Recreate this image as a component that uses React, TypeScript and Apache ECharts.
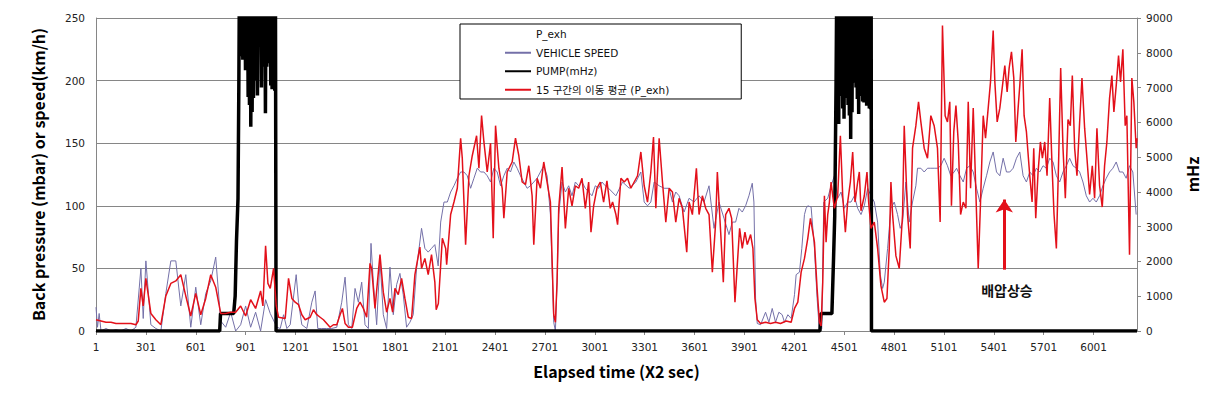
import React, { useEffect, useRef } from "react";
import * as echarts from "echarts";

// ---- data (elapsed index, value) ----
const xTickStep = 300;
const xLastIndex = 6262;
const leftTicks = { min: 0, max: 250, step: 50 };
const rightTicks = { min: 0, max: 9000, step: 1000 };

const vehicleSpeed: [number, number][] = [
  [1,19],[10,3],[20,14],[31,0],[61,2],[91,0],[121,1],[151,0],[181,2],[211,0],[241,3],[271,50],[285,10],[301,56],[331,5],[361,2],[391,0],[421,30],[451,56],[481,56],[511,20],[541,45],[571,3],[601,35],[631,5],[661,30],[691,40],[721,59],[751,8],[781,3],[811,15],[841,0],[871,5],[901,20],[931,3],[961,15],[991,0],[1021,25],
  [1049,14],[1089,3],[1109,2],[1129,13],[1149,2],[1169,5],[1205,45],[1219,23],[1239,5],[1269,2],[1299,23],[1319,32],[1335,2],[1359,2],[1389,2],[1419,2],[1449,3],[1479,23],[1499,43],[1519,5],[1539,2],[1559,34],[1579,23],[1599,39],[1619,5],[1639,2],[1655,70],[1669,39],[1689,5],[1709,57],[1729,13],[1749,2],[1769,51],[1789,13],[1809,37],[1829,46],[1849,29],[1869,3],[1889,7],[1909,13],[1929,50],[1959,82],[1979,66],[1999,63],[2019,66],[2039,69],[2059,52],
  [2074,87],[2094,103],[2114,103],[2134,111],[2154,116],[2174,122],[2194,127],[2214,127],[2234,124],[2254,114],[2274,122],[2294,130],[2314,127],[2334,127],[2354,124],[2374,119],[2394,130],[2414,127],[2434,116],[2454,124],[2474,130],[2494,127],[2514,135],[2534,130],[2554,124],[2574,119],[2594,114],[2614,116],[2634,119],[2654,122],[2674,127],[2694,132],[2714,124],[2734,93],[2754,7],[2764,0],[2774,39],[2784,93],[2804,119],[2824,111],[2844,116],[2864,108],[2884,119],[2904,116],[2924,119],[2944,114],[2964,111],[2984,108],[3004,116],[3024,114],[3044,119],[3064,116],[3084,114],
  [3128,108],[3168,119],[3208,114],[3248,119],[3278,127],[3298,103],[3318,100],[3338,103],[3358,119],[3388,116],[3418,114],[3448,114],[3468,103],[3488,111],[3508,108],[3538,95],[3568,106],[3598,103],[3628,108],[3658,103],[3688,116],[3718,82],[3748,103],[3778,90],[3808,77],[3828,87],[3848,87],[3868,98],[3888,95],[3908,100],[3928,108],[3948,118],[3958,103],[3968,26],[3978,6],[3998,5],[4028,15],[4048,7],[4068,18],[4088,7],[4108,15],[4128,13],
  [4142,7],[4162,13],[4182,10],[4202,29],[4212,45],[4232,47],[4246,66],[4262,93],[4272,98],[4282,100],[4302,99],[4322,66],[4338,26],[4352,0],[4366,2],[4378,103],[4402,106],[4422,116],[4442,124],[4462,106],[4482,111],[4502,98],[4522,103],[4542,103],[4562,108],[4582,98],[4602,93],[4622,100],[4642,114],[4662,108],[4682,103],[4702,87],[4718,45],[4732,34],[4742,39],[4762,66],[4782,98],[4802,103],[4822,93],[4838,82],[4852,87],[4872,119],[4892,87],[4912,103],[4932,116],[4942,130],[4962,130],[4982,127],[5002,130],[5022,130],[5042,130],[5062,130],[5082,132],[5102,138],[5122,132],[5142,124],[5162,127],
  [5177,130],[5197,124],[5217,119],[5237,130],[5257,132],[5277,127],[5297,114],[5317,103],[5337,114],[5357,124],[5377,135],[5397,143],[5417,127],[5437,124],[5457,138],[5477,127],[5497,127],[5517,130],[5537,138],[5557,143],[5577,124],[5597,119],[5617,127],[5637,124],[5657,130],[5677,127],[5697,132],[5717,130],[5737,138],[5757,135],[5777,124],[5797,119],[5817,127],[5837,132],[5857,138],[5877,132],[5897,130],[5917,127],[5937,119],[5957,108],[5977,103],[5997,106],[6017,103],[6037,108],[6057,116],[6077,122],[6097,127],[6117,130],[6137,135],[6157,127],[6177,127],[6197,122],[6217,132],[6237,127],[6257,93]
];

const movingAvgPexh: [number, number][] = [
  [1,9],[31,8],[61,7],[91,7],[121,6],[151,6],[181,6],[211,6],[241,5],[255,8],[271,34],[285,20],[301,42],[331,14],[361,9],[391,5],[421,28],[451,38],[481,40],[511,45],[541,28],[571,12],[601,30],[631,13],[661,26],[691,45],[721,35],[751,14],[781,14],[811,15],[841,15],[871,20],[901,12],[931,25],[961,18],[991,32],[1005,20],[1021,68],[1035,38],[1049,34],[1069,50],[1085,20],[1099,11],[1139,10],[1159,42],[1179,26],[1199,23],[1219,21],[1239,13],[1259,9],[1289,11],[1309,17],[1329,13],[1349,11],[1369,9],[1389,6],[1409,3],[1429,5],[1449,5],[1469,13],[1483,18],[1499,6],[1519,3],[1543,3],[1569,18],[1589,23],[1609,18],[1629,11],[1649,54],[1659,50],[1679,18],[1709,61],[1729,31],[1749,15],[1769,26],[1785,15],[1799,34],[1819,29],[1839,42],[1859,26],[1879,11],[1899,10],[1919,45],[1949,67],[1959,50],[1979,58],[1999,45],[2019,61],[2039,39],[2047,17],[2060,22],
  [2084,74],[2104,66],[2110,53],[2134,93],[2154,103],[2174,114],[2194,154],[2204,138],[2224,69],[2244,124],[2264,140],[2290,156],[2304,130],[2320,172],[2334,151],[2354,127],[2374,150],[2390,74],[2404,164],[2424,130],[2444,114],[2454,90],[2474,127],[2504,135],[2524,154],[2544,140],[2564,119],[2584,117],[2604,132],[2624,108],[2634,69],[2654,122],[2674,114],[2694,135],[2714,119],[2734,103],[2754,13],[2764,7],[2774,39],[2784,98],[2804,131],[2824,82],[2844,114],[2864,100],[2884,116],[2904,114],[2924,122],[2944,98],[2964,119],[2978,79],[2994,100],[3014,114],[3034,119],[3054,103],[3074,120],[3094,98],
  [3108,103],[3128,93],[3138,85],[3158,122],[3178,119],[3198,122],[3218,114],[3238,119],[3258,124],[3278,143],[3298,116],[3318,103],[3338,127],[3354,155],[3368,98],[3388,154],[3408,119],[3428,87],[3448,114],[3468,111],[3488,87],[3508,106],[3528,98],[3554,63],[3568,103],[3588,93],[3612,130],[3628,93],[3648,108],[3668,98],[3688,93],[3708,47],[3728,87],[3738,127],[3758,79],[3774,39],[3788,93],[3808,98],[3824,90],[3844,23],[3858,53],[3872,82],[3888,66],[3904,79],[3918,69],[3938,77],[3952,66],[3964,26],[3978,9],[3998,6],[4028,7],[4058,6],[4088,7],[4118,6],
  [4152,8],[4182,7],[4202,18],[4222,23],[4242,47],[4262,58],[4282,74],[4298,90],[4312,79],[4322,71],[4338,34],[4352,7],[4362,4],[4372,39],[4382,108],[4392,71],[4402,93],[4412,103],[4422,119],[4432,108],[4442,98],[4462,108],[4478,156],[4492,108],[4508,79],[4522,103],[4538,119],[4552,143],[4566,103],[4582,119],[4592,127],[4602,96],[4622,108],[4638,127],[4648,103],[4662,82],[4682,87],[4702,66],[4722,36],[4742,23],[4758,26],[4772,66],[4782,119],[4792,93],[4812,60],[4832,50],[4852,93],[4862,164],[4882,93],[4898,66],[4912,146],[4932,164],[4948,183],[4962,167],[4982,146],[5002,138],[5022,172],[5042,164],[5062,146],[5078,87],[5092,244],[5108,172],[5122,167],[5136,183],[5146,100],[5160,159],
  [5173,180],[5187,151],[5201,93],[5217,103],[5233,98],[5247,183],[5261,114],[5277,178],[5291,119],[5307,50],[5321,103],[5337,172],[5351,154],[5367,178],[5381,199],[5397,240],[5407,199],[5421,167],[5437,178],[5453,196],[5467,212],[5481,191],[5493,210],[5507,223],[5521,202],[5533,151],[5547,178],[5557,196],[5571,225],[5583,172],[5597,159],[5617,124],[5631,103],[5641,146],[5653,90],[5667,127],[5681,151],[5693,138],[5707,151],[5721,124],[5737,186],[5751,132],[5763,93],[5777,66],[5791,138],[5803,210],[5817,146],[5831,106],[5847,169],[5861,164],[5873,204],[5887,146],[5901,124],[5917,167],[5931,202],[5947,162],[5961,138],[5977,109],[5993,132],[6007,106],[6021,162],[6037,116],[6053,99],[6067,132],[6081,151],[6097,186],[6111,204],[6123,175],[6137,196],[6151,220],[6163,199],[6177,225],[6191,164],[6201,172],[6217,61],[6231,202],[6243,183],[6257,146],[6262,154]
];

const pumpMHz: [number, number][] = [
  [1,0],[745,0],[750,500],[829,500],[838,1000],[846,2600],[855,3800],[860,7000],[864,10500],[868,7900],[872,10500],[876,8000],[880,10500],[884,7800],[888,10500],[892,7960],[896,10500],[900,7500],[904,10500],[908,8140],[912,10500],[916,6730],[920,10500],[924,6500],[928,10500],[932,5870],[936,10500],[940,6300],[944,10500],[948,6700],[952,10500],[956,7400],[960,10500],[964,7200],[968,10500],[972,6770],[976,10500],[980,8210],[984,10500],[988,8280],[992,10500],[996,7000],[1000,10500],[1004,7600],[1008,10500],[1012,8960],[1016,10500],[1020,6260],[1024,10500],[1028,7600],[1032,10500],[1036,8280],[1040,10500],[1044,7700],[1048,10500],[1052,7060],[1056,10500],[1060,6950],[1064,10500],[1068,8570],[1072,10500],[1076,6910],[1080,10500],[1083,10500],[1084,0],
  [4355,0],[4361,500],[4427,500],[4437,2100],[4444,3300],[4452,7100],[4457,10500],[4460,8900],[4464,10500],[4468,5950],[4472,10500],[4476,7000],[4480,10500],[4484,6760],[4488,10500],[4492,6400],[4496,10500],[4500,6100],[4504,10500],[4508,6700],[4512,10500],[4516,7140],[4520,10500],[4524,6500],[4528,10500],[4532,6200],[4536,10500],[4540,5520],[4544,10500],[4548,6290],[4552,10500],[4556,7140],[4560,10500],[4564,7380],[4568,10500],[4572,7000],[4576,10500],[4580,6670],[4584,10500],[4588,6240],[4592,10500],[4596,6950],[4600,10500],[4604,6760],[4608,10500],[4612,6600],[4616,10500],[4620,6570],[4624,10500],[4628,6570],[4632,10500],[4636,6480],[4640,10500],[4644,6480],[4648,10500],[4652,6400],[4656,10500],[4660,6380],[4663,10500],[4665,0],[6262,0]
];

const annotationArrow = { t: 5464, from: 49, to: 105 };
const annotationText = "배압상승";

const seriesNames = {
  pexh: "P_exh",
  speed: "VEHICLE SPEED",
  pump: "PUMP(mHz)",
  avg: "15 구간의 이동 평균 (P_exh)",
};

const toAxis = (pts: [number, number][]) => pts.map(([t, v]) => [t - 1, v]);

export default function App() {
  const ref = useRef<HTMLDivElement>(null);
  useEffect(() => {
    if (!ref.current) return;
    const chart = echarts.init(ref.current, null, { renderer: "svg" });
    const tickFont = { fontFamily: "DejaVu Sans", fontSize: 10.5, color: "#222" };
    const titleFont = { fontFamily: "Noto Sans CJK KR", fontWeight: "bold" as const, fontSize: 16, color: "#000" };
    const axisGrey = "#868686";
    chart.setOption({
      animation: false,
      backgroundColor: "#fff",
      grid: { left: 96, right: 81, top: 18, bottom: 77 },
      legend: {
        orient: "vertical",
        left: 460,
        top: 24,
        padding: [5, 72, 4, 44],
        itemWidth: 26,
        itemHeight: 12,
        itemGap: 8,
        borderColor: "#000",
        borderWidth: 1,
        backgroundColor: "#fff",
        selectedMode: false,
        itemStyle: { opacity: 0 },
        textStyle: { fontFamily: "DejaVu Sans, Noto Sans CJK KR", fontSize: 10.5, color: "#111" },
        data: [
          { name: seriesNames.pexh, itemStyle: { opacity: 0 }, lineStyle: { opacity: 0 } },
          seriesNames.speed,
          seriesNames.pump,
          seriesNames.avg,
        ],
      },
      xAxis: {
        type: "value",
        min: 0,
        max: xLastIndex - 1,
        interval: xTickStep,
        name: "Elapsed time (X2 sec)",
        nameLocation: "middle",
        nameGap: 32,
        nameTextStyle: titleFont,
        axisLine: { show: true, lineStyle: { color: axisGrey } },
        axisTick: { show: true, length: 4, lineStyle: { color: axisGrey } },
        axisLabel: { ...tickFont, margin: 10, showMaxLabel: false, formatter: (v: number) => String(v + 1) },
        splitLine: { show: false },
      },
      yAxis: [
        {
          type: "value",
          min: leftTicks.min,
          max: leftTicks.max,
          interval: leftTicks.step,
          name: "Back pressure (mbar) or speed(km/h)",
          nameLocation: "middle",
          nameRotate: 90,
          nameGap: 50,
          nameTextStyle: titleFont,
          axisLine: { show: true, lineStyle: { color: axisGrey } },
          axisTick: { show: false },
          axisLabel: { ...tickFont, margin: 11, formatter: (v: number) => String(v) },
          splitLine: { show: true, lineStyle: { color: axisGrey, width: 1 } },
        },
        {
          type: "value",
          min: rightTicks.min,
          max: rightTicks.max,
          interval: rightTicks.step,
          position: "right",
          name: "mHz",
          nameLocation: "middle",
          nameRotate: 90,
          nameGap: 47,
          nameTextStyle: titleFont,
          axisLine: { show: true, lineStyle: { color: axisGrey } },
          axisTick: { show: true, length: 4, lineStyle: { color: axisGrey } },
          axisLabel: { ...tickFont, margin: 9, formatter: (v: number) => String(v) },
          splitLine: { show: false },
        },
      ],
      series: [
        {
          name: seriesNames.pexh,
          type: "line",
          data: [],
          symbol: "none",
          lineStyle: { opacity: 0 },
        },
        {
          name: seriesNames.speed,
          type: "line",
          yAxisIndex: 0,
          data: toAxis(vehicleSpeed),
          symbol: "none",
          lineStyle: { color: "#7470a8", width: 1 },
          itemStyle: { color: "#7470a8" },
        },
        {
          name: seriesNames.pump,
          type: "line",
          yAxisIndex: 1,
          data: toAxis(pumpMHz),
          symbol: "none",
          lineStyle: { color: "#000", width: 3.5 },
          itemStyle: { color: "#000" },
        },
        {
          name: seriesNames.avg,
          type: "line",
          yAxisIndex: 0,
          data: toAxis(movingAvgPexh),
          symbol: "none",
          lineStyle: { color: "#e3101a", width: 1.5 },
          itemStyle: { color: "#e3101a" },
          markLine: {
            silent: true,
            symbol: ["none", "arrow"],
            symbolSize: [13, 13],
            label: { show: false },
            lineStyle: { color: "#e3101a", width: 3, type: "solid" },
            data: [[
              { coord: [annotationArrow.t - 1, annotationArrow.from] },
              { coord: [annotationArrow.t - 1, annotationArrow.to] },
            ]],
          },
        },
      ],
      graphic: [
        {
          type: "text",
          x: 1007,
          y: 290,
          style: {
            text: annotationText,
            fontFamily: "Noto Sans CJK KR",
            fontWeight: "bold",
            fontSize: 14,
            fill: "#111",
            align: "center",
            verticalAlign: "middle",
          },
        },
      ],
    });
    return () => chart.dispose();
  }, []);
  return (
    <div
      ref={ref}
      style={{ position: "fixed", left: 0, top: 0, width: 1218, height: 408, background: "#fff" }}
    />
  );
}
